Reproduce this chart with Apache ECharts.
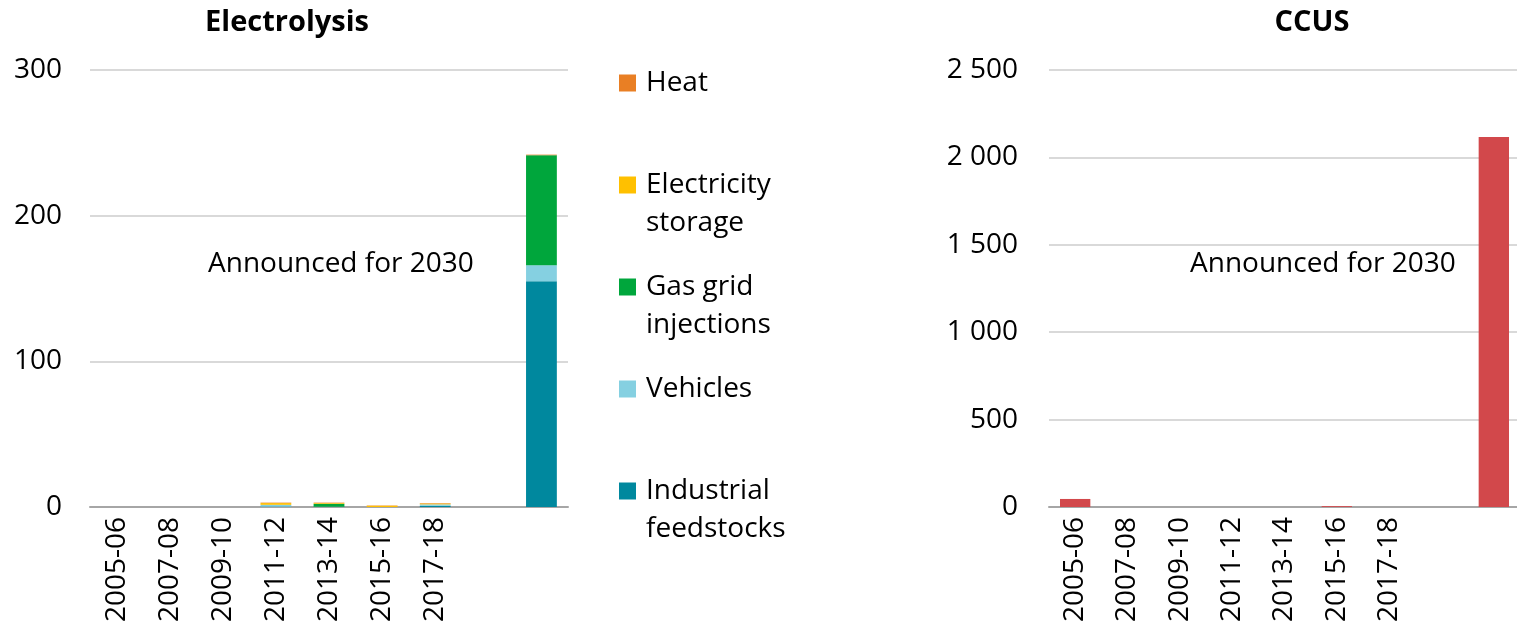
<!DOCTYPE html>
<html>
<head>
<meta charset="utf-8">
<style>
    html, body { margin: 0; padding: 0; background: #ffffff; }
    #chart { width: 1517px; height: 626px; }
</style>
<script src="https://cdn.jsdelivr.net/npm/echarts@6/dist/echarts.min.js"></script>
</head>
<body>
<div id="chart"></div>
<script>
    var categories = ['2005-06', '2007-08', '2009-10', '2011-12', '2013-14', '2015-16', '2017-18', '', ''];

    // Electrolysis, stacked from the bottom up
    var industrialFeedstocks = [0, 0, 0, 0.3, 0.2, 0, 0.8, 0, 155];
    var vehicles = [0, 0, 0, 1.2, 0, 0, 1.0, 0, 11];
    var gasGridInjections = [0, 0, 0, 0, 2.0, 0, 0, 0, 75.5];
    var electricityStorage = [0, 0, 0, 1.2, 0.5, 0.9, 0.6, 0, 0];
    var heat = [0, 0, 0, 0.3, 0.3, 0.2, 0.3, 0, 0.4];

    // CCUS
    var ccus = [46, 0, 0, 0, 0, 5, 0, 0, 2117];

    var electrolysisTicks = { min: 0, max: 300, interval: 100 };
    var ccusTicks = { min: 0, max: 2500, interval: 500 };

    var font = 'Open Sans';
    var fs = 28;

    function spaced(v) {
        return String(v).replace(/\B(?=(\d{3})+(?!\d))/g, ' ');
    }

    function xAxisFor(gridIndex) {
        return {
            type: 'category',
            gridIndex: gridIndex,
            data: categories,
            axisLine: { lineStyle: { color: '#a6a6a6', width: 2 } },
            axisTick: { show: false },
            axisLabel: {
                rotate: 90, interval: 0, margin: 10,
                fontFamily: font, fontSize: fs, color: '#000'
            }
        };
    }

    function yAxisFor(gridIndex, t, margin) {
        return {
            type: 'value',
            gridIndex: gridIndex,
            min: t.min, max: t.max, interval: t.interval,
            axisLine: { show: false },
            axisTick: { show: false },
            splitLine: { lineStyle: { color: '#d9d9d9', width: 2 } },
            axisLabel: {
                margin: margin,
                fontFamily: font, fontSize: fs, color: '#000',
                formatter: spaced
            }
        };
    }

    function stackBar(name, data, color) {
        return {
            name: name, type: 'bar', stack: 'el',
            xAxisIndex: 0, yAxisIndex: 0,
            barWidth: '58%',
            data: data,
            itemStyle: { color: color },
            emphasis: { disabled: true }
        };
    }

    var legendLabels = {
        'Electricity storage': ' \nElectricity\nstorage',
        'Gas grid injections': ' \nGas grid\ninjections',
        'Industrial feedstocks': ' \nIndustrial\nfeedstocks'
    };

    // one legend per entry; two-line labels get a blank first line so the
    // marker lines up with the first written line
    function legendItem(name, iconY, twoLines) {
        var lh = 38;
        return {
            data: [{ name: name, icon: 'rect' }],
            left: 619,
            top: iconY - (twoLines ? lh * 1.5 : lh / 2),
            padding: 0,
            itemWidth: 17, itemHeight: 17,
            selectedMode: false,
            textStyle: {
                fontFamily: font, fontSize: fs, color: '#000',
                lineHeight: lh,
                padding: [0, 0, 0, 5]
            },
            formatter: function (n) {
                return legendLabels[n] || n;
            }
        };
    }

    var chart = echarts.init(document.getElementById('chart'));
    chart.setOption({
        animation: false,
        textStyle: { fontFamily: font },
        title: [
            { text: 'Electrolysis', left: 282, top: 3, textAlign: 'center',
              textStyle: { fontFamily: font, fontSize: 29, fontWeight: 'bold', color: '#000' } },
            { text: 'CCUS', left: 1307, top: 3, textAlign: 'center',
              textStyle: { fontFamily: font, fontSize: 29, fontWeight: 'bold', color: '#000' } }
        ],
        grid: [
            { left: 90, width: 478, top: 70, bottom: 119, outerBoundsMode: 'none' },
            { left: 1049, width: 471, top: 70, bottom: 119, outerBoundsMode: 'none' }
        ],
        xAxis: [xAxisFor(0), xAxisFor(1)],
        yAxis: [yAxisFor(0, electrolysisTicks, 28), yAxisFor(1, ccusTicks, 31)],
        legend: [
            legendItem('Heat', 83, false),
            legendItem('Electricity storage', 185, true),
            legendItem('Gas grid injections', 287, true),
            legendItem('Vehicles', 389, false),
            legendItem('Industrial feedstocks', 491, true)
        ],
        graphic: [
            { type: 'text', left: 208, top: 250,
              style: { text: 'Announced for 2030', font: fs + 'px "' + font + '"', fill: '#000' } },
            { type: 'text', left: 1190, top: 250,
              style: { text: 'Announced for 2030', font: fs + 'px "' + font + '"', fill: '#000' } }
        ],
        series: [
            stackBar('Industrial feedstocks', industrialFeedstocks, '#00889e'),
            stackBar('Vehicles', vehicles, '#85d0e1'),
            stackBar('Gas grid injections', gasGridInjections, '#00a63c'),
            stackBar('Electricity storage', electricityStorage, '#ffc000'),
            stackBar('Heat', heat, '#e97f24'),
            {
                name: 'CCUS', type: 'bar',
                xAxisIndex: 1, yAxisIndex: 1,
                barWidth: '58%',
                data: ccus,
                itemStyle: { color: '#d2484b' },
                emphasis: { disabled: true }
            }
        ]
    });
</script>
</body>
</html>
